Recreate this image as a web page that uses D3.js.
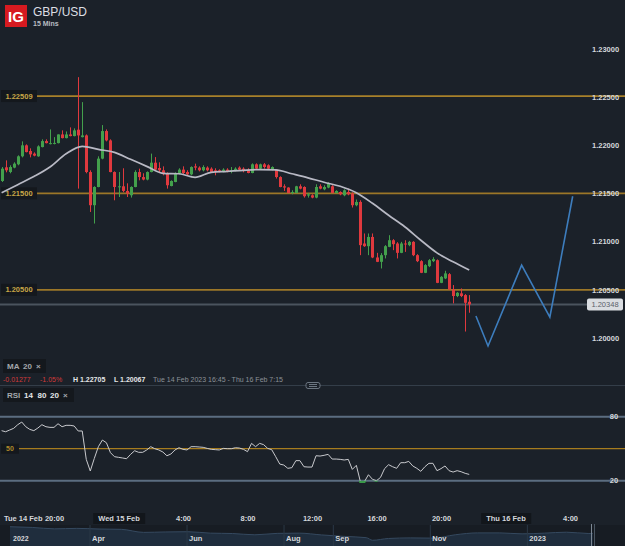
<!DOCTYPE html>
<html lang="en">
<head>
<meta charset="UTF-8">
<title>GBP/USD 15 Mins - D3</title>
<script src="https://d3js.org/d3.v7.min.js"></script>
<style>
  body { margin: 0; background: #1b2129; font-family: "Liberation Sans", Arial, sans-serif; }
  svg { display: block; }
  .axis path, .axis line { display: none; }
  .axis text { fill: #d4d7db; font-size: 7.5px; font-weight: bold; font-family: "Liberation Sans", Arial, sans-serif; }
  .small { font-size: 7px; }
</style>
</head>
<body>
<script>
var W = 625, H = 546;

// 15 minute candles, first one Tue 14 Feb 2023 16:45
var start = new Date(2023, 1, 14, 16, 45);
var opens = [1.21628,1.21770,1.21721,1.21767,1.21801,1.21884,1.21998,1.21939,1.21912,1.21884,
  1.21980,1.22042,1.22015,1.22021,1.22021,1.22111,1.22073,1.22111,1.22094,1.22160,
  1.22083,1.22101,1.21721,1.21377,1.21566,1.21860,1.22146,1.22049,1.21721,1.21566,
  1.21573,1.21525,1.21480,1.21566,1.21721,1.21669,1.21643,1.21721,1.21818,1.21763,
  1.21739,1.21705,1.21576,1.21618,1.21705,1.21746,1.21721,1.21697,1.21780,1.21767,
  1.21739,1.21767,1.21756,1.21739,1.21739,1.21721,1.21746,1.21728,1.21732,1.21767,
  1.21756,1.21739,1.21711,1.21801,1.21756,1.21801,1.21791,1.21746,1.21746,1.21669,
  1.21573,1.21560,1.21504,1.21504,1.21573,1.21566,1.21477,1.21480,1.21456,1.21573,
  1.21542,1.21560,1.21573,1.21504,1.21514,1.21480,1.21514,1.21498,1.21377,1.21411,
  1.20980,1.20952,1.21048,1.20835,1.20790,1.20859,1.20945,1.21014,1.20980,1.20883,
  1.20980,1.20963,1.20997,1.20859,1.20797,1.20676,1.20745,1.20797,1.20807,1.20572,
  1.20618,1.20662,1.20504,1.20435,1.20463,1.20445,1.20376];
var highs = [1.21773,1.21842,1.21791,1.21822,1.21894,1.22039,1.22008,1.21967,1.21925,1.21998,
  1.22060,1.22060,1.22163,1.22083,1.22111,1.22153,1.22142,1.22184,1.22174,1.22705,
  1.22446,1.22111,1.21739,1.21573,1.21884,1.22208,1.22163,1.22060,1.21728,1.21721,
  1.21760,1.21604,1.21573,1.21739,1.21756,1.21708,1.21728,1.21912,1.21876,1.21822,
  1.21780,1.21718,1.21635,1.21718,1.21760,1.21780,1.21739,1.21780,1.21808,1.21780,
  1.21791,1.21780,1.21770,1.21760,1.21749,1.21760,1.21760,1.21773,1.21770,1.21780,
  1.21770,1.21760,1.21811,1.21811,1.21808,1.21814,1.21801,1.21780,1.21749,1.21677,
  1.21594,1.21563,1.21532,1.21578,1.21594,1.21573,1.21504,1.21490,1.21594,1.21594,
  1.21584,1.21615,1.21584,1.21532,1.21521,1.21542,1.21549,1.21511,1.21436,1.21428,
  1.21084,1.21084,1.21084,1.20883,1.20880,1.20963,1.21066,1.21025,1.20994,1.20997,
  1.21014,1.21007,1.21004,1.20869,1.20807,1.20766,1.20818,1.20838,1.20815,1.20642,
  1.20697,1.20673,1.20549,1.20476,1.20514,1.20455,1.20445];
var lows = [1.21618,1.21718,1.21708,1.21760,1.21791,1.21873,1.21925,1.21873,1.21884,1.21879,
  1.21977,1.22018,1.22008,1.22008,1.22018,1.22070,1.22070,1.22091,1.22091,1.21549,
  1.22080,1.21708,1.21307,1.21187,1.21563,1.21853,1.22039,1.21718,1.21428,1.21462,
  1.21511,1.21462,1.21456,1.21563,1.21635,1.21635,1.21635,1.21718,1.21739,1.21718,
  1.21687,1.21549,1.21573,1.21615,1.21697,1.21697,1.21687,1.21687,1.21739,1.21728,
  1.21728,1.21728,1.21718,1.21687,1.21718,1.21718,1.21718,1.21708,1.21728,1.21739,
  1.21718,1.21708,1.21708,1.21749,1.21749,1.21756,1.21749,1.21739,1.21653,1.21563,
  1.21525,1.21501,1.21490,1.21501,1.21542,1.21456,1.21456,1.21449,1.21449,1.21542,
  1.21532,1.21553,1.21501,1.21501,1.21480,1.21470,1.21480,1.21353,1.21366,1.20859,
  1.20945,1.20859,1.20828,1.20787,1.20721,1.20825,1.20942,1.20911,1.20825,1.20880,
  1.20893,1.20952,1.20849,1.20787,1.20673,1.20673,1.20735,1.20787,1.20569,1.20569,
  1.20611,1.20497,1.20359,1.20424,1.20424,1.20067,1.20262];
var closes = [1.21756,1.21739,1.21773,1.21808,1.21884,1.21998,1.21928,1.21904,1.21891,1.21987,
  1.22042,1.22021,1.22021,1.22023,1.22111,1.22073,1.22111,1.22094,1.22153,1.22101,
  1.22101,1.21721,1.21377,1.21566,1.21860,1.22146,1.22049,1.21721,1.21566,1.21573,
  1.21525,1.21498,1.21566,1.21721,1.21669,1.21643,1.21721,1.21818,1.21746,1.21739,
  1.21705,1.21584,1.21628,1.21705,1.21746,1.21711,1.21697,1.21773,1.21767,1.21739,
  1.21773,1.21739,1.21721,1.21721,1.21728,1.21746,1.21732,1.21739,1.21756,1.21746,
  1.21732,1.21711,1.21801,1.21756,1.21801,1.21773,1.21756,1.21773,1.21669,1.21566,
  1.21560,1.21504,1.21514,1.21573,1.21549,1.21470,1.21490,1.21456,1.21566,1.21549,
  1.21566,1.21601,1.21504,1.21525,1.21490,1.21532,1.21490,1.21377,1.21411,1.20963,
  1.20952,1.21048,1.20835,1.20790,1.20859,1.20952,1.21014,1.20973,1.20883,1.20980,
  1.20973,1.20997,1.20859,1.20797,1.20676,1.20756,1.20807,1.20818,1.20572,1.20634,
  1.20670,1.20504,1.20435,1.20469,1.20435,1.20365,1.20348];

// MA 20, read every 4th candle
var maStep = 4;
var maValues = [1.21506,1.21590,1.21674,1.21773,1.21910,1.21987,1.21956,1.21925,1.21853,1.21780,
  1.21708,1.21703,1.21666,1.21718,1.21728,1.21739,1.21746,1.21744,1.21703,1.21661,
  1.21615,1.21573,1.21506,1.21397,1.21273,1.21154,1.21014,1.20883,1.20790,1.20704];

// RSI 14, one value per candle
var rsiValues = [66.9,65.9,67.5,69.1,72.5,75,70.6,68.1,66.9,69.4,
  72.5,70.6,70,70,73.4,70.6,71.9,71.9,71.3,66.6,
  66.6,40,29.1,40.9,51.9,58.1,55.6,46.3,42.5,41.9,
  41.3,40.6,44.7,48.1,46.6,46.6,48.8,51.9,50,48.8,
  46.9,43.4,45,48.8,50.9,49.4,48.8,51.9,51.9,51.6,
  51.3,50.3,49.4,49.1,48.8,50.3,50,50,50.9,50.6,
  49.4,47.2,55,51.9,55,53.8,50.3,49.1,42.5,35.6,
  34.7,31.6,32.2,38.8,38.8,33.1,32.8,32.8,43.4,43.1,
  43.8,44.7,40.3,40.3,40,39.4,40,30.6,34.4,19.1,
  19.1,25.6,21.3,20,23.1,31.3,35,33.1,31.6,36.9,
  36.9,38.1,33.8,31.6,28.8,33.1,36.3,36.3,29.4,31.3,
  33.8,29.4,28.1,29.4,28.4,26.9,25.9];

var levels = [1.22509, 1.21500, 1.20500];
var lastPrice = 1.20348;
var priceTicks = [1.20, 1.205, 1.21, 1.215, 1.22, 1.225, 1.23];

// drawn projection
var projTimes = [new Date(2023,1,15,22,10), new Date(2023,1,15,22,55), new Date(2023,1,16,1,0),
  new Date(2023,1,16,2,45), new Date(2023,1,16,4,10)];
var projPrices = [1.20228, 1.19917, 1.20756, 1.20217, 1.21470];

// navigator history
var navDates = ["2022-02-10","2022-02-24","2022-03-10","2022-03-24","2022-04-07","2022-04-21","2022-05-05",
  "2022-05-19","2022-06-02","2022-06-16","2022-06-30","2022-07-14","2022-07-28","2022-08-11","2022-08-25",
  "2022-09-08","2022-09-22","2022-09-26","2022-10-06","2022-10-20","2022-11-03","2022-11-17","2022-12-01",
  "2022-12-15","2022-12-29","2023-01-12","2023-01-26","2023-02-09","2023-02-13"];
var navPrices = [1.355,1.340,1.310,1.320,1.307,1.300,1.236,1.245,1.250,1.220,1.212,1.185,1.215,1.220,1.182,
  1.152,1.125,1.070,1.108,1.120,1.115,1.186,1.225,1.225,1.205,1.220,1.240,1.212,1.215];
var navTicks = ["2022-04-01","2022-06-01","2022-08-01","2022-09-01","2022-11-01","2023-01-01"];

var candles = opens.map(function(o, i) {
  return { t: d3.timeMinute.offset(start, 15 * i), o: o, h: highs[i], l: lows[i], c: closes[i] };
});

var x = d3.scaleTime().domain([new Date(2023,1,14,20), new Date(2023,1,16,4)]).range([54, 570]);
var y = d3.scaleLinear().domain([1.20, 1.23]).range([338, 48.7]);
var yr = d3.scaleLinear().domain([20, 80]).range([480.7, 416.7]);

var svg = d3.select("body").append("svg").attr("width", W).attr("height", H);
svg.append("rect").attr("width", W).attr("height", H).attr("fill", "#1b2129");

var gold = "#9c7728", green = "#43a04c", red = "#e0393e";

// header
svg.append("rect").attr("x", 5).attr("y", 5).attr("width", 22).attr("height", 22).attr("fill", "#d71a20");
svg.append("text").attr("x", 16).attr("y", 21.5).attr("text-anchor", "middle")
   .attr("fill", "#fff").attr("font-size", 15).attr("font-weight", "bold").text("IG");
svg.append("text").attr("x", 33).attr("y", 15.5).attr("fill", "#dcdfe3").attr("font-size", 12).text("GBP/USD");
svg.append("text").attr("x", 33).attr("y", 26).attr("fill", "#b9bdc2").attr("font-size", 7)
   .attr("font-weight", "bold").text("15 Mins");

// price levels
levels.forEach(function(l, k) {
  svg.append("line").attr("x1", 37).attr("x2", W).attr("y1", y(l)).attr("y2", y(l))
     .attr("stroke", k === 0 ? "#a8812a" : gold).attr("stroke-width", 1.8);
  svg.append("rect").attr("x", 1).attr("y", y(l) - 6).attr("width", 36).attr("height", 12).attr("fill", "#14181d");
  svg.append("text").attr("x", 19).attr("y", y(l)).attr("dy", "0.35em").attr("text-anchor", "middle")
     .attr("fill", "#c7a647").attr("font-size", 7.5).attr("font-weight", "bold").text(l.toFixed(5));
});

// last price line
svg.append("line").attr("x1", 0).attr("x2", 587).attr("y1", y(lastPrice)).attr("y2", y(lastPrice))
   .attr("stroke", "#4b545e").attr("stroke-width", 2);

// right price axis
svg.append("g").attr("class", "axis").attr("transform", "translate(585,0)")
   .call(d3.axisRight(y).tickValues(priceTicks).tickFormat(d3.format(".5f")).tickSize(0).tickPadding(7));

svg.append("rect").attr("x", 587).attr("y", y(lastPrice) - 6).attr("width", 36).attr("height", 12)
   .attr("rx", 2).attr("fill", "#dadde1");
svg.append("text").attr("x", 605).attr("y", y(lastPrice)).attr("dy", "0.35em").attr("text-anchor", "middle")
   .attr("fill", "#5b6169").attr("font-size", 7.5).text(lastPrice.toFixed(5));

// candles
var cg = svg.append("g");
cg.selectAll(".wick").data(candles).enter().append("line")
  .attr("x1", d => Math.round(x(d.t)) + 0.5).attr("x2", d => Math.round(x(d.t)) + 0.5)
  .attr("y1", d => y(d.h)).attr("y2", d => y(d.l))
  .attr("stroke", d => d.c >= d.o ? green : red).attr("stroke-width", 1);
cg.selectAll(".body").data(candles).enter().append("rect")
  .attr("x", d => Math.round(x(d.t)) - 1).attr("width", 3)
  .attr("y", d => y(Math.max(d.o, d.c)))
  .attr("height", d => Math.max(1, Math.abs(y(d.o) - y(d.c))))
  .attr("fill", d => d.c >= d.o ? green : red);

// MA 20
var maLine = d3.line().x(d => x(d.t)).y(d => y(d.v)).curve(d3.curveMonotoneX);
svg.append("path")
   .datum(maValues.map((v, k) => ({ t: d3.timeMinute.offset(start, 15 * maStep * k), v: v })))
   .attr("d", maLine).attr("fill", "none").attr("stroke", "#b8b9c4").attr("stroke-width", 1.7);

// projection
svg.append("path")
   .datum(projTimes.map((t, k) => ({ t: t, v: projPrices[k] })))
   .attr("d", maLine.curve(d3.curveLinear)).attr("fill", "none")
   .attr("stroke", "#3d7dbd").attr("stroke-width", 1.6);

// MA info row
svg.append("rect").attr("x", 3).attr("y", 359).attr("width", 43).attr("height", 14).attr("fill", "#14181d");
[["MA", 7, "#a3a7ac"], ["20", 23, "#a3a7ac"], ["\u00d7", 36, "#a3a7ac"]].forEach(function(t) {
  svg.append("text").attr("x", t[1]).attr("y", 366).attr("dy", "0.35em").attr("fill", t[2])
     .attr("font-size", 8).attr("font-weight", "bold").text(t[0]);
});
[["-0.01277", 3, "#d23a3a", "normal"], ["-1.05%", 40, "#d23a3a", "normal"],
 ["H 1.22705", 73, "#e4e6e8", "bold"], ["L 1.20067", 114, "#e4e6e8", "bold"],
 ["Tue 14 Feb 2023 16:45 - Thu 16 Feb 7:15", 153, "#8b9198", "normal"]].forEach(function(t) {
  svg.append("text").attr("x", t[1]).attr("y", 379.5).attr("dy", "0.35em").attr("fill", t[2])
     .attr("font-size", 7).attr("font-weight", t[3]).text(t[0]);
});

// panel separator
svg.append("line").attr("x1", 0).attr("x2", W).attr("y1", 385.5).attr("y2", 385.5).attr("stroke", "#343e49");
svg.append("rect").attr("x", 306).attr("y", 382.5).attr("width", 14).attr("height", 6).attr("rx", 2)
   .attr("fill", "#1b2129").attr("stroke", "#6c7681");
svg.append("line").attr("x1", 309).attr("x2", 317).attr("y1", 384.5).attr("y2", 384.5).attr("stroke", "#6c7681");
svg.append("line").attr("x1", 309).attr("x2", 317).attr("y1", 386.5).attr("y2", 386.5).attr("stroke", "#6c7681");

// RSI panel
svg.append("rect").attr("x", 3).attr("y", 388).attr("width", 71).attr("height", 14).attr("fill", "#14181d");
[["RSI", 7, "#a3a7ac"], ["14", 24, "#e4e6e8"], ["80", 37.5, "#e4e6e8"], ["20", 50, "#e4e6e8"], ["\u00d7", 63, "#a3a7ac"]]
  .forEach(function(t) {
    svg.append("text").attr("x", t[1]).attr("y", 395).attr("dy", "0.35em").attr("fill", t[2])
       .attr("font-size", 8).attr("font-weight", "bold").text(t[0]);
  });

[80, 20].forEach(function(v) {
  svg.append("line").attr("x1", 0).attr("x2", W).attr("y1", yr(v)).attr("y2", yr(v))
     .attr("stroke", "#5b6d80").attr("stroke-width", 2);
  svg.append("text").attr("x", 614).attr("y", yr(v)).attr("dy", "0.35em").attr("text-anchor", "middle")
     .attr("fill", "#d4d7db").attr("font-size", 7.5).attr("font-weight", "bold").text(v);
});
svg.append("line").attr("x1", 19).attr("x2", W).attr("y1", yr(50)).attr("y2", yr(50))
   .attr("stroke", "#a67c1e").attr("stroke-width", 1.2);
svg.append("rect").attr("x", 1).attr("y", yr(50) - 5).attr("width", 18).attr("height", 10).attr("fill", "#14181d");
svg.append("text").attr("x", 10).attr("y", yr(50)).attr("dy", "0.35em").attr("text-anchor", "middle")
   .attr("fill", "#b08a2c").attr("font-size", 7).attr("font-weight", "bold").text("50");

var rsiData = rsiValues.map((v, i) => ({ t: candles[i].t, v: v }));
var rsiLine = d3.line().x(d => x(d.t)).y(d => yr(d.v));
svg.append("path").datum(rsiData).attr("d", rsiLine).attr("fill", "none")
   .attr("stroke", "#c9cace").attr("stroke-width", 1);
svg.append("clipPath").attr("id", "os").append("rect")
   .attr("x", 0).attr("y", yr(20)).attr("width", W).attr("height", 20);
svg.append("path").datum(rsiData).attr("d", rsiLine).attr("fill", "none")
   .attr("clip-path", "url(#os)").attr("stroke", "#3a9a4a").attr("stroke-width", 2.5);

// time axis
var timeTicks = d3.timeHour.range(new Date(2023,1,14,20), new Date(2023,1,16,5), 4);
var fmtDay = d3.timeFormat("%a %-d %b"), fmtHour = d3.timeFormat("%-H:00");
var tAxis = svg.append("g").attr("class", "axis").attr("transform", "translate(0,518.5)")
   .call(d3.axisBottom(x).tickValues(timeTicks).tickSize(0)
         .tickFormat(d => d.getHours() === 0 ? fmtDay(d) : fmtHour(d)));
tAxis.selectAll("text").attr("y", 0).attr("dy", "0.35em");
tAxis.selectAll(".tick").filter(d => d.getHours() === 0).each(function() {
  var b = d3.select(this).select("text").node().getBBox();
  d3.select(this).insert("rect", "text").attr("x", b.x - 5).attr("y", -5.5)
    .attr("width", b.width + 10).attr("height", 11).attr("fill", "#12161b");
});
svg.append("text").attr("x", 4).attr("y", 518.5).attr("dy", "0.35em").attr("fill", "#d4d7db")
   .attr("font-size", 7.5).attr("font-weight", "bold").text(fmtDay(start));

// navigator
var nx = d3.scaleTime().domain([new Date(2022,1,10), new Date(2023,1,16)]).range([10, 600]);
var ny = d3.scaleLinear().domain([0.95, 1.37]).range([546, 526]);
var parse = d3.timeParse("%Y-%m-%d");
var navData = navDates.map((d, k) => ({ t: parse(d), v: navPrices[k] }));
svg.append("rect").attr("x", 0).attr("y", 525).attr("width", W).attr("height", 21).attr("fill", "#171c23");
svg.append("path").datum(navData)
   .attr("d", d3.area().x(d => Math.min(593, nx(d.t))).y0(546).y1(d => ny(d.v)).curve(d3.curveMonotoneX))
   .attr("fill", "#1f2d3d");
svg.append("path").datum(navData)
   .attr("d", d3.line().x(d => Math.min(593, nx(d.t))).y(d => ny(d.v)).curve(d3.curveMonotoneX))
   .attr("fill", "none").attr("stroke", "#35495f").attr("stroke-width", 1);
var nAxis = svg.append("g").attr("class", "axis").attr("transform", "translate(0,546)")
   .call(d3.axisTop(nx).tickValues(navTicks.map(parse)).tickSize(21)
         .tickFormat(d => d.getMonth() === 0 ? d3.timeFormat("%Y")(d) : d3.timeFormat("%b")(d)));
nAxis.selectAll("line").style("display", "inline").attr("stroke", "#2b3846");
nAxis.selectAll("text").attr("y", -5).attr("x", 2).attr("dy", 0).attr("text-anchor", "start")
   .attr("class", "small");
svg.append("text").attr("x", 13).attr("y", 541).attr("fill", "#d4d7db").attr("font-size", 7)
   .attr("font-weight", "bold").text("2022");
svg.append("line").attr("x1", 591.5).attr("x2", 591.5).attr("y1", 524).attr("y2", 546).attr("stroke", "#7d8894");
svg.append("line").attr("x1", 594.5).attr("x2", 594.5).attr("y1", 524).attr("y2", 546).attr("stroke", "#4a5561");
</script>
</body>
</html>
